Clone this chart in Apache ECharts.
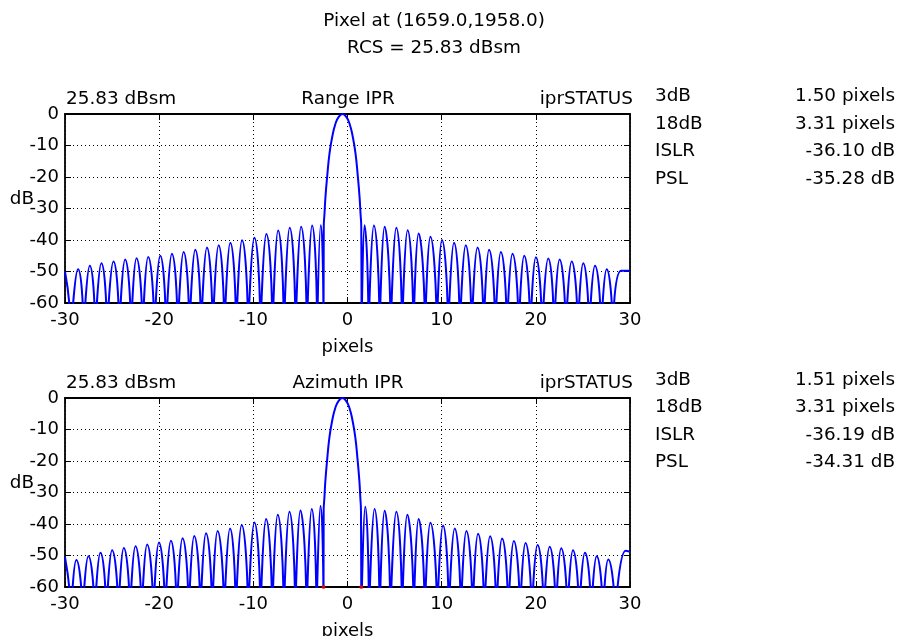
<!DOCTYPE html>
<html><head><meta charset="utf-8">
<script src="https://cdn.jsdelivr.net/npm/echarts@6/dist/echarts.min.js"></script>
<style>html,body{margin:0;padding:0;background:#fff}#c{width:898px;height:636px}</style>
</head><body><div id="c"></div>
<script>
// ---------------- data ----------------
const xTickValues = [-30, -20, -10, 0, 10, 20, 30];
const yTickValues = [0, -10, -20, -30, -40, -50, -60];

const titleLines = ['Pixel at (1659.0,1958.0)', 'RCS = 25.83 dBsm'];
const panelLeft = '25.83 dBsm';
const panelRight = 'iprSTATUS';
const panelTitles = ['Range IPR', 'Azimuth IPR'];
const statNames = ['3dB', '18dB', 'ISLR', 'PSL'];
const rangeStatValues = ['1.50 pixels', '3.31 pixels', '-36.10 dB', '-35.28 dB'];
const azStatValues = ['1.51 pixels', '3.31 pixels', '-36.19 dB', '-34.31 dB'];

// Range IPR
const rangeStart = [[-30, -50.0]];
const rangeEnd = [[29.05, -49.8], [30, -49.8]];
const rangeLobeX = [-28.62, -27.37, -26.14, -24.86, -23.62, -22.41, -21.17, -19.89, -18.65, -17.41, -16.17,
  -14.93, -13.69, -12.45, -11.2, -9.89, -8.62, -7.37, -6.14, -4.93, -3.76, -2.84,
  1.81, 2.80, 3.94, 5.18, 6.38, 7.55, 8.8, 10.03, 11.31, 12.55, 13.8, 15.03, 16.28, 17.52, 18.76, 20.0,
  21.31, 22.52, 23.8, 25.03, 26.28, 27.52];
const rangeLobeDb = [-49.3, -48.2, -47.4, -46.8, -46.2, -45.8, -45.4, -45.0, -44.4, -43.8, -43.1,
  -42.4, -41.7, -40.9, -40.1, -39.3, -38.1, -37.0, -36.1, -35.8, -35.4, -35.3,
  -35.3, -35.4, -35.8, -36.1, -36.9, -37.9, -39.0, -40.0, -40.9, -41.7, -42.4, -43.1, -43.8, -44.4, -45.0, -45.5,
  -45.9, -46.2, -46.8, -47.4, -48.2, -49.3];
const rangeNullX = [-29.39, -28.05, -26.81, -25.56, -24.26, -23.01, -21.78, -20.53, -19.29, -18.05, -16.81,
  -15.57, -14.33, -13.09, -11.84, -10.57, -9.26, -7.98, -6.77, -5.53, -4.33, -3.23, -2.55,
  1.49, 2.23, 3.40, 4.57, 5.78, 6.99, 8.22, 9.47, 10.67, 11.91, 13.16, 14.44, 15.67, 16.91, 18.16,
  19.39, 20.64, 21.91, 23.16, 24.44, 25.64, 26.91, 28.16];
const rangeMainX = [-2.52, -2.44, -2.34, -2.16, -1.91, -1.62, -1.27, -0.93, -0.53, -0.13, 0.21, 0.56, 0.85, 1.10, 1.28, 1.38, 1.46];
const rangeMainDb = [-35.8, -31.5, -26.3, -19.9, -12.5, -7.2, -3.0, -0.9, 0, -0.9, -3.0, -7.2, -12.5, -19.9, -26.3, -31.5, -35.8];

// Azimuth IPR
const azStart = [[-30, -50.5]];
const azEnd = [[29.54, -48.5], [30, -48.8]];
const azLobeX = [-28.80, -27.52, -26.24, -25.0, -23.76, -22.52, -21.28, -20.03, -18.76, -17.52, -16.28,
  -15.03, -13.8, -12.48, -11.24, -9.89, -8.65, -7.41, -6.17, -5.0, -3.80, -2.87,
  1.88, 2.87, 3.94, 5.18, 6.35, 7.55, 8.80, 10.14, 11.38, 12.62, 13.86, 15.14, 16.41, 17.66, 18.9, 20.18,
  21.46, 22.69, 23.94, 25.21, 26.46, 27.69];
const azLobeDb = [-51.4, -50.2, -49.1, -48.3, -47.6, -47.1, -46.5, -45.9, -45.3, -44.5, -43.8,
  -42.9, -42.2, -41.4, -40.3, -39.5, -38.4, -37.1, -36.1, -35.7, -35.2, -34.3,
  -34.5, -35.2, -35.8, -36.1, -37.1, -38.4, -39.6, -40.5, -41.4, -42.2, -43.1, -43.9, -44.6, -45.4, -46.0, -46.7,
  -47.2, -47.7, -48.3, -49.1, -50.2, -51.3];
const azNullX = [-29.39, -28.16, -26.88, -25.64, -24.36, -23.12, -21.88, -20.64, -19.39, -18.16, -16.88,
  -15.64, -14.39, -13.12, -11.88, -10.57, -9.26, -8.01, -6.78, -5.56, -4.36, -3.30, -2.55,
  1.46, 2.27, 3.40, 4.54, 5.78, 7.02, 8.19, 9.50, 10.74, 12.02, 13.26, 14.50, 15.78, 17.05, 18.30,
  19.54, 20.82, 22.10, 23.33, 24.57, 25.85, 27.10, 28.40];
const azMainX = [-2.53, -2.45, -2.35, -2.17, -1.92, -1.63, -1.28, -0.94, -0.545, -0.15, 0.19, 0.54, 0.83, 1.08, 1.26, 1.36, 1.43];
const azMainDb = [-35.8, -31.5, -26.3, -19.9, -12.5, -7.2, -3.0, -0.9, 0, -0.9, -3.0, -7.2, -12.5, -19.9, -26.3, -31.5, -35.8];
const azNullMarks = [[-2.55, -60], [1.46, -60]];

// ---------------- build ----------------
const NULL_FLOOR = -70; // nulls fall below the -60 axis floor (clipped)
function buildCurve(start, lobeX, lobeDb, nullX, mainX, mainDb, end) {
  const pts = [];
  start.forEach(p => pts.push(p));
  lobeX.forEach((x, i) => pts.push([x, lobeDb[i]]));
  mainX.forEach((x, i) => pts.push([x, mainDb[i]]));
  nullX.forEach(x => { pts.push([x, NULL_FLOOR]); pts.push([x, NULL_FLOOR - 1]); });
  end.forEach(p => pts.push(p));
  pts.sort((a, b) => a[0] - b[0]);
  return pts;
}
const rangeCurve = buildCurve(rangeStart, rangeLobeX, rangeLobeDb, rangeNullX, rangeMainX, rangeMainDb, rangeEnd);
const azCurve = buildCurve(azStart, azLobeX, azLobeDb, azNullX, azMainX, azMainDb, azEnd);

const FONT = '"DejaVu Sans", sans-serif';
const FS = 18;
const TFS = 18.4;
const grids = [
  { left: 65, top: 114, width: 565, height: 189, outerBoundsMode: 'none', containLabel: false },
  { left: 65, top: 398, width: 565, height: 189, outerBoundsMode: 'none', containLabel: false }
];

function xAxes(gi) {
  const common = {
    gridIndex: gi, type: 'value', min: xTickValues[0], max: xTickValues[xTickValues.length - 1],
    interval: xTickValues[1] - xTickValues[0],
    axisLine: { show: true, onZero: false, lineStyle: { color: '#000', width: 1.8 } },
    axisTick: { show: true, inside: true, length: 6, lineStyle: { color: '#000', width: 1 } }
  };
  return [
    Object.assign({}, common, {
      position: 'bottom',
      axisLabel: { show: true, color: '#000', fontFamily: FONT, fontSize: FS, margin: 8 },
      splitLine: { show: true, lineStyle: { color: '#000', width: 1, type: [1, 3] } },
      name: 'pixels', nameLocation: 'middle', nameGap: 35,
      nameTextStyle: { color: '#000', fontFamily: FONT, fontSize: FS }
    }),
    Object.assign({}, common, {
      position: 'top', axisLabel: { show: false }, splitLine: { show: false }
    })
  ];
}
function yAxes(gi) {
  const common = {
    gridIndex: gi, type: 'value', min: yTickValues[yTickValues.length - 1], max: yTickValues[0],
    interval: 10,
    axisLine: { show: true, onZero: false, lineStyle: { color: '#000', width: 1.8 } },
    axisTick: { show: true, inside: true, length: 6, lineStyle: { color: '#000', width: 1 } }
  };
  return [
    Object.assign({}, common, {
      position: 'left',
      axisLabel: { show: true, color: '#000', fontFamily: FONT, fontSize: FS, margin: 6 },
      splitLine: { show: true, lineStyle: { color: '#000', width: 1, type: [1, 3] } }
    }),
    Object.assign({}, common, {
      position: 'right', axisLabel: { show: false }, splitLine: { show: false }
    })
  ];
}

function txt(text, x, y, align) {
  return {
    type: 'text', x: x, y: y, silent: true, z: 100,
    style: { text: text, fill: '#000', font: TFS + 'px ' + FONT,
      align: align, textAlign: align, verticalAlign: 'middle', textVerticalAlign: 'middle' }
  };
}
const graphics = [];
graphics.push(txt(titleLines[0], 434, 21, 'center'));
graphics.push(txt(titleLines[1], 434, 48, 'center'));
const headerY = [99.5, 383.5];
const statY0 = [96.5, 380];
const dbY = [199, 483];
const statVals = [rangeStatValues, azStatValues];
[0, 1].forEach(i => {
  graphics.push(txt(panelLeft, 66, headerY[i], 'left'));
  graphics.push(txt(panelTitles[i], 348, headerY[i], 'center'));
  graphics.push(txt(panelRight, 633, headerY[i], 'right'));
  statNames.forEach((n, k) => {
    graphics.push(txt(n, 655, statY0[i] + k * 27.5, 'left'));
    graphics.push(txt(statVals[i][k], 895, statY0[i] + k * 27.5, 'right'));
  });
  graphics.push(txt('dB', 34, dbY[i], 'right'));
});

const chart = echarts.init(document.getElementById('c'), null, { renderer: 'canvas' });
chart.setOption({
  animation: false,
  backgroundColor: '#fff',
  grid: grids,
  xAxis: xAxes(0).concat(xAxes(1)),
  yAxis: yAxes(0).concat(yAxes(1)),
  series: [
    { type: 'line', xAxisIndex: 0, yAxisIndex: 0, data: rangeCurve, smooth: 0.5, symbol: 'none', clip: true,
      lineStyle: { color: '#0000ff', width: 2 }, z: 3 },
    { type: 'line', xAxisIndex: 2, yAxisIndex: 2, data: azCurve, smooth: 0.5, symbol: 'none', clip: true,
      lineStyle: { color: '#0000ff', width: 2 }, z: 3 },
    { type: 'scatter', xAxisIndex: 2, yAxisIndex: 2, data: azNullMarks, symbol: 'circle', symbolSize: 4,
      itemStyle: { color: '#ff0000' }, z: 4 }
  ],
  graphic: graphics
});
</script></body></html>
